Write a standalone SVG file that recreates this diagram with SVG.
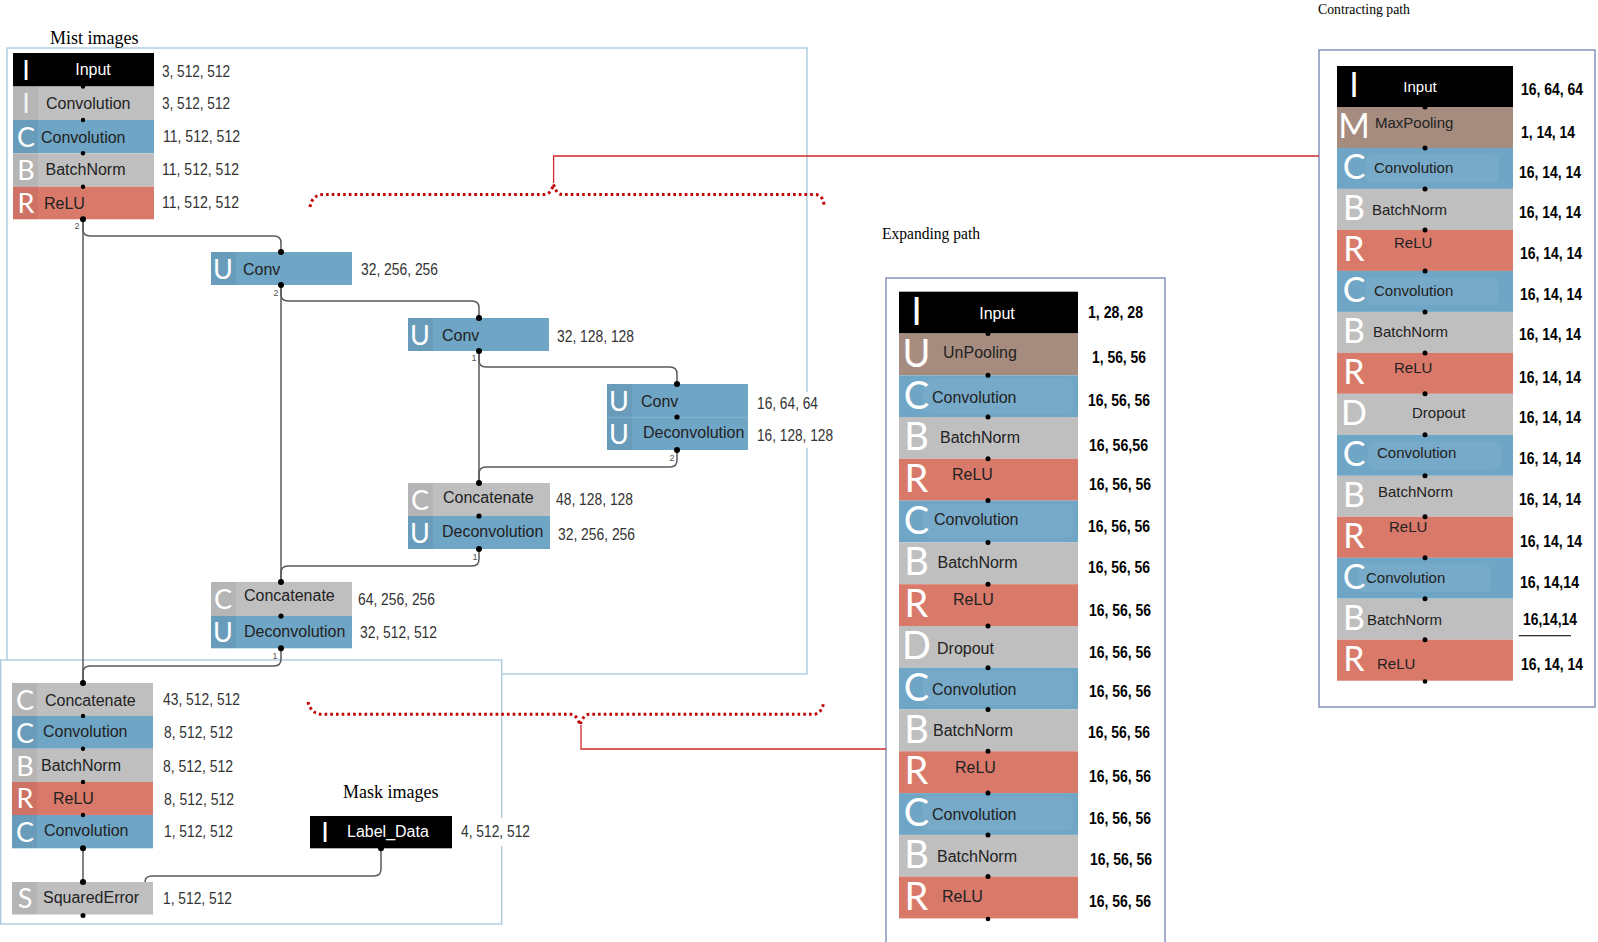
<svg xmlns="http://www.w3.org/2000/svg" width="1598" height="942" viewBox="0 0 1598 942">
<style>
.bk{fill:#000}.gy{fill:#bfbfbf}.bl{fill:#6fa5c5}.rd{fill:#d9796a}.br{fill:#a68c7e}
.lc{fill:#000;opacity:.05}
.gh{fill:#fff;opacity:.06}
.ic{font-family:Lato,"Liberation Sans",Arial,sans-serif;font-weight:400;font-size:27px;fill:#fff;text-anchor:middle}
.icb{font-family:Lato,"Liberation Sans",Arial,sans-serif;font-weight:400;font-size:38px;fill:#fff;text-anchor:middle}
.icc{font-family:Lato,"Liberation Sans",Arial,sans-serif;font-weight:400;font-size:34px;fill:#fff;text-anchor:middle}
.lb{font-family:"Liberation Sans",Arial,sans-serif;font-size:16px;fill:#222}
.lbs{font-family:"Liberation Sans",Arial,sans-serif;font-size:15px;fill:#222}
.w{fill:#fff}
.mid{text-anchor:middle}
.dm{font-family:"Liberation Sans",Arial,sans-serif;font-size:16px;fill:#333}
.db{font-family:"Liberation Sans",Arial,sans-serif;font-size:16px;font-weight:bold;fill:#000}
.cap{font-family:"Liberation Serif","Times New Roman",serif;fill:#000}
.num{font-family:"Liberation Sans",Arial,sans-serif;font-size:9px;fill:#555;text-anchor:middle}
.conn{fill:none;stroke:#5a5a5a;stroke-width:1.5}
.dot{fill:#000}
.brace{fill:none;stroke:#c00000;stroke-width:3;stroke-dasharray:2.6 3.1}
.red{fill:none;stroke:#d02a2a;stroke-width:1.3}
.box1{fill:none;stroke:#a8c8dd;stroke-width:1.3}
.box2{fill:#fff;stroke:#a8c8dd;stroke-width:1.3}
.box3{fill:none;stroke:#7482b2;stroke-width:1.3}
</style>

<!-- panel frames -->
<g id="frames">
<rect class="box1" x="7" y="48" width="800" height="626"/>
<rect class="box2" x="0.7" y="660" width="501" height="264"/>
<rect class="box3" x="886" y="278" width="279" height="680"/>
<rect class="box3" x="1319" y="50" width="276" height="657"/>
</g>

<g id="captions">
<text class="cap" x="50" y="44" font-size="18">Mist images</text>
<text class="cap" x="343" y="798" font-size="18">Mask images</text>
<text class="cap" x="882" y="239" font-size="16" textLength="98" lengthAdjust="spacingAndGlyphs">Expanding path</text>
<text class="cap" x="1318" y="14" font-size="15" textLength="92" lengthAdjust="spacingAndGlyphs">Contracting path</text>
</g>

<!-- red annotation -->
<g id="annotations">
<path class="brace" d="M310,207 Q312,195 323,194.5 H545 Q551,194 553.5,184 Q556,194 562,194.5 H815 Q823,195 824,205"/>
<path class="red" d="M553.6,183 V156 H1319"/>
<path class="brace" d="M308,702 Q311,714 322,714.3 H571 Q577,715 580,725 Q583,715 589,714.3 H814 Q822,713 823.5,703"/>
<path class="red" d="M581,725 V749 H886"/>
</g>

<!-- connectors -->
<g id="connectors">
<path class="conn" d="M83,219 V683"/>
<path class="conn" d="M83,219 V229 Q83,236 90,236 H274 Q281,236 281,243 V252"/>
<path class="conn" d="M281,285 V582"/>
<path class="conn" d="M281,285 V294 Q281,301 288,301 H472 Q479,301 479,308 V318"/>
<path class="conn" d="M479,351 V483"/>
<path class="conn" d="M479,351 V360 Q479,367 486,367 H670 Q677,367 677,374 V384"/>
<path class="conn" d="M677,450 V460 Q677,467 670,467 H486 Q479,467 479,474 V483"/>
<path class="conn" d="M479,549 V559 Q479,566 472,566 H288 Q281,566 281,573 V582"/>
<path class="conn" d="M281,648 V659 Q281,666 274,666 H90 Q83,666 83,673 V683"/>
<path class="conn" d="M83,848 V882"/>
<path class="conn" d="M381,848 V869 Q381,876 374,876 H152 Q145,876 145,882"/>
<text class="num" x="77" y="229">2</text>
<text class="num" x="276" y="296">2</text>
<text class="num" x="474" y="361">1</text>
<text class="num" x="672" y="461">2</text>
<text class="num" x="475" y="560">1</text>
<text class="num" x="275" y="659">1</text>
</g>

<!-- Mist encoder stack -->
<g id="node-input-stack">
<rect class="bk" x="13" y="53" width="141" height="33.5"/>
<rect class="gy" x="13" y="86.5" width="141" height="33.5"/>
<rect class="bl" x="13" y="120" width="141" height="33.3"/>
<rect class="gy" x="13" y="153.3" width="141" height="33.4"/>
<rect class="rd" x="13" y="186.7" width="141" height="32.6"/>
<rect class="lc" x="13" y="86.5" width="25" height="132.8"/>
<text class="ic" x="26" y="80">I</text>
<text class="ic" x="26" y="113" style="fill:#f2f2f2">I</text>
<text class="ic" x="26" y="146.5">C</text>
<text class="ic" x="26" y="179.5">B</text>
<text class="ic" x="26" y="212.5">R</text>
<text class="lb w mid" x="93" y="75">Input</text>
<text class="lb" x="46" y="109">Convolution</text>
<text class="lb" x="41" y="142.5">Convolution</text>
<text class="lb" x="45.5" y="175">BatchNorm</text>
<text class="lb" x="44" y="209">ReLU</text>
<text class="dm" x="162" y="77" textLength="68" lengthAdjust="spacingAndGlyphs">3, 512, 512</text>
<text class="dm" x="162" y="109" textLength="68" lengthAdjust="spacingAndGlyphs">3, 512, 512</text>
<text class="dm" x="163" y="142" textLength="77" lengthAdjust="spacingAndGlyphs">11, 512, 512</text>
<text class="dm" x="162" y="175" textLength="77" lengthAdjust="spacingAndGlyphs">11, 512, 512</text>
<text class="dm" x="162" y="208" textLength="77" lengthAdjust="spacingAndGlyphs">11, 512, 512</text>
<circle class="dot" cx="83" cy="86.5" r="2.2"/>
<circle class="dot" cx="83" cy="120" r="2.2"/>
<circle class="dot" cx="83" cy="153.3" r="2.2"/>
<circle class="dot" cx="83" cy="186.7" r="2.2"/>
<circle class="dot" cx="83" cy="219.3" r="3"/>
</g>

<g id="node-uconv1">
<rect class="bl" x="211" y="252" width="141" height="33"/>
<rect class="lc" x="211" y="252" width="25" height="33"/>
<text class="ic" x="223" y="278.5">U</text>
<text class="lb" x="243" y="275">Conv</text>
<text class="dm" x="361" y="275" textLength="77" lengthAdjust="spacingAndGlyphs">32, 256, 256</text>
<circle class="dot" cx="281" cy="252" r="3"/>
<circle class="dot" cx="281" cy="285" r="3"/>
</g>

<g id="node-uconv2">
<rect class="bl" x="408" y="318" width="141" height="33"/>
<rect class="lc" x="408" y="318" width="25" height="33"/>
<text class="ic" x="420" y="344.5">U</text>
<text class="lb" x="442" y="341">Conv</text>
<text class="dm" x="557" y="342" textLength="77" lengthAdjust="spacingAndGlyphs">32, 128, 128</text>
<circle class="dot" cx="479" cy="318" r="3"/>
<circle class="dot" cx="479" cy="351" r="3"/>
</g>

<g id="node-uconv3-deconv">
<rect x="755" y="392" width="80" height="56" fill="#fff"/>
<rect class="bl" x="607" y="384" width="141" height="33"/>
<rect class="bl" x="607" y="417" width="141" height="33"/>
<rect x="607" y="417" width="141" height="0.8" fill="#8bb8d2"/>
<rect class="lc" x="607" y="384" width="25" height="66"/>
<text class="ic" x="619" y="410.5">U</text>
<text class="ic" x="619" y="443.5">U</text>
<text class="lb" x="641" y="407">Conv</text>
<text class="lb" x="643" y="438">Deconvolution</text>
<text class="dm" x="757" y="409" textLength="61" lengthAdjust="spacingAndGlyphs">16, 64, 64</text>
<text class="dm" x="757" y="441" textLength="76" lengthAdjust="spacingAndGlyphs">16, 128, 128</text>
<circle class="dot" cx="677" cy="384" r="3"/>
<circle class="dot" cx="677" cy="417" r="2.6"/>
<circle class="dot" cx="677" cy="450" r="3"/>
</g>

<g id="node-concat1-deconv">
<rect class="gy" x="408" y="483" width="142" height="33"/>
<rect class="bl" x="408" y="516" width="142" height="33"/>
<rect class="lc" x="408" y="483" width="25" height="66"/>
<text class="ic" x="420" y="509.5">C</text>
<text class="ic" x="420" y="542.5">U</text>
<text class="lb" x="443" y="503">Concatenate</text>
<text class="lb" x="442" y="537">Deconvolution</text>
<text class="dm" x="556" y="505" textLength="77" lengthAdjust="spacingAndGlyphs">48, 128, 128</text>
<text class="dm" x="558" y="540" textLength="77" lengthAdjust="spacingAndGlyphs">32, 256, 256</text>
<circle class="dot" cx="479" cy="483" r="3"/>
<circle class="dot" cx="479" cy="516" r="2.6"/>
<circle class="dot" cx="479" cy="549" r="3"/>
</g>

<g id="node-concat2-deconv">
<rect class="gy" x="211" y="582" width="141" height="34"/>
<rect class="bl" x="211" y="616" width="141" height="32.3"/>
<rect class="lc" x="211" y="582" width="25" height="66.3"/>
<text class="ic" x="223" y="609">C</text>
<text class="ic" x="223" y="642">U</text>
<text class="lb" x="244" y="601">Concatenate</text>
<text class="lb" x="244" y="636.5">Deconvolution</text>
<text class="dm" x="358" y="605" textLength="77" lengthAdjust="spacingAndGlyphs">64, 256, 256</text>
<text class="dm" x="360" y="638" textLength="77" lengthAdjust="spacingAndGlyphs">32, 512, 512</text>
<circle class="dot" cx="281" cy="582" r="3"/>
<circle class="dot" cx="281" cy="616" r="2.6"/>
<circle class="dot" cx="281" cy="648.3" r="3"/>
</g>

<g id="node-output-stack">
<rect class="gy" x="12" y="683" width="141" height="33"/>
<rect class="bl" x="12" y="716" width="141" height="32.7"/>
<rect class="gy" x="12" y="748.7" width="141" height="33.3"/>
<rect class="rd" x="12" y="782" width="141" height="33"/>
<rect class="bl" x="12" y="815" width="141" height="33.3"/>
<rect class="lc" x="12" y="683" width="25" height="165.3"/>
<text class="ic" x="25" y="709.5">C</text>
<text class="ic" x="25" y="742.5">C</text>
<text class="ic" x="25" y="775.5">B</text>
<text class="ic" x="25" y="808">R</text>
<text class="ic" x="25" y="841.5">C</text>
<text class="lb" x="45" y="705.5">Concatenate</text>
<text class="lb" x="43" y="737">Convolution</text>
<text class="lb" x="41" y="770.5">BatchNorm</text>
<text class="lb" x="53" y="804">ReLU</text>
<text class="lb" x="44" y="836">Convolution</text>
<text class="dm" x="163" y="705" textLength="77" lengthAdjust="spacingAndGlyphs">43, 512, 512</text>
<text class="dm" x="164" y="738" textLength="69" lengthAdjust="spacingAndGlyphs">8, 512, 512</text>
<text class="dm" x="163" y="772" textLength="70" lengthAdjust="spacingAndGlyphs">8, 512, 512</text>
<text class="dm" x="164" y="805" textLength="70" lengthAdjust="spacingAndGlyphs">8, 512, 512</text>
<text class="dm" x="164" y="837" textLength="69" lengthAdjust="spacingAndGlyphs">1, 512, 512</text>
<circle class="dot" cx="83" cy="683" r="3"/>
<circle class="dot" cx="83" cy="716" r="2.2"/>
<circle class="dot" cx="83" cy="748.7" r="2.2"/>
<circle class="dot" cx="83" cy="782" r="2.2"/>
<circle class="dot" cx="83" cy="815" r="2.2"/>
<circle class="dot" cx="83" cy="848.3" r="3"/>
</g>

<g id="node-squarederror">
<rect class="gy" x="12" y="882" width="141" height="32.5"/>
<rect class="lc" x="12" y="882" width="25" height="32.5"/>
<text class="ic" x="25" y="908">S</text>
<text class="lb" x="43" y="903">SquaredError</text>
<text class="dm" x="163" y="904" textLength="69" lengthAdjust="spacingAndGlyphs">1, 512, 512</text>
<circle class="dot" cx="83" cy="882" r="3"/>
<circle class="dot" cx="83" cy="915.5" r="2.5"/>
</g>

<g id="node-label-data">
<rect x="458" y="818" width="76" height="28" fill="#fff"/>
<rect class="bk" x="310" y="816" width="142" height="32.3"/>
<text class="ic" x="325" y="842">I</text>
<text class="lb w" x="347" y="836.5">Label_Data</text>
<text class="dm" x="461" y="837" textLength="69" lengthAdjust="spacingAndGlyphs">4, 512, 512</text>
<circle class="dot" cx="381" cy="848.3" r="3"/>
</g>

<!-- Expanding path -->
<g id="node-expanding-path">
<rect class="bk" x="899" y="291.7" width="179" height="41.8"/>
<rect class="br" x="899" y="333.5" width="179" height="41.8"/>
<rect class="bl" x="899" y="375.3" width="179" height="41.7"/>
<rect class="gy" x="899" y="417" width="179" height="41.8"/>
<rect class="rd" x="899" y="458.8" width="179" height="41.8"/>
<rect class="bl" x="899" y="500.6" width="179" height="41.8"/>
<rect class="gy" x="899" y="542.4" width="179" height="41.8"/>
<rect class="rd" x="899" y="584.2" width="179" height="41.8"/>
<rect class="gy" x="899" y="626" width="179" height="41.7"/>
<rect class="bl" x="899" y="667.7" width="179" height="41.8"/>
<rect class="gy" x="899" y="709.5" width="179" height="41.8"/>
<rect class="rd" x="899" y="751.3" width="179" height="41.8"/>
<rect class="bl" x="899" y="793.1" width="179" height="41.8"/>
<rect class="gy" x="899" y="834.9" width="179" height="41.7"/>
<rect class="rd" x="899" y="876.6" width="179" height="41.8"/>
<rect class="gh" x="923" y="379" width="150" height="34" rx="6"/>
<rect class="gh" x="923" y="504" width="150" height="34" rx="6"/>
<rect class="gh" x="923" y="671" width="150" height="34" rx="6"/>
<rect class="gh" x="923" y="797" width="150" height="34" rx="6"/>
<text class="icb" x="916.5" y="325">I</text>
<text class="icb" x="916.5" y="366.5">U</text>
<text class="icb" x="916.5" y="408.5">C</text>
<text class="icb" x="916.5" y="450">B</text>
<text class="icb" x="916.5" y="491.8">R</text>
<text class="icb" x="916.5" y="533.8">C</text>
<text class="icb" x="916.5" y="575.4">B</text>
<text class="icb" x="916.5" y="617.2">R</text>
<text class="icb" x="916.5" y="659">D</text>
<text class="icb" x="916.5" y="701">C</text>
<text class="icb" x="916.5" y="742.5">B</text>
<text class="icb" x="916.5" y="784.3">R</text>
<text class="icb" x="916.5" y="826.3">C</text>
<text class="icb" x="916.5" y="868">B</text>
<text class="icb" x="916.5" y="909.6">R</text>
<text class="lb w mid" x="997" y="319">Input</text>
<text class="lb" x="943" y="358">UnPooling</text>
<text class="lb" x="932" y="403">Convolution</text>
<text class="lb" x="940" y="443">BatchNorm</text>
<text class="lb" x="952" y="480">ReLU</text>
<text class="lb" x="934" y="525">Convolution</text>
<text class="lb" x="937.5" y="568">BatchNorm</text>
<text class="lb" x="953" y="605">ReLU</text>
<text class="lb" x="937" y="654">Dropout</text>
<text class="lb" x="932" y="695">Convolution</text>
<text class="lb" x="933" y="736">BatchNorm</text>
<text class="lb" x="955" y="773">ReLU</text>
<text class="lb" x="932" y="820">Convolution</text>
<text class="lb" x="937" y="862">BatchNorm</text>
<text class="lb" x="942" y="902">ReLU</text>
<circle class="dot" cx="988" cy="333.5" r="2.5"/>
<circle class="dot" cx="988" cy="375.3" r="2.5"/>
<circle class="dot" cx="988" cy="417" r="2.5"/>
<circle class="dot" cx="988" cy="458.8" r="2.5"/>
<circle class="dot" cx="988" cy="500.6" r="2.5"/>
<circle class="dot" cx="988" cy="542.4" r="2.5"/>
<circle class="dot" cx="988" cy="584.2" r="2.5"/>
<circle class="dot" cx="988" cy="626" r="2.5"/>
<circle class="dot" cx="988" cy="667.7" r="2.5"/>
<circle class="dot" cx="988" cy="709.5" r="2.5"/>
<circle class="dot" cx="988" cy="751.3" r="2.5"/>
<circle class="dot" cx="988" cy="793.1" r="2.5"/>
<circle class="dot" cx="988" cy="834.9" r="2.5"/>
<circle class="dot" cx="988" cy="876.6" r="2.5"/>
<circle class="dot" cx="988" cy="919" r="2.3"/>
<text class="db" x="1088" y="318" textLength="55" lengthAdjust="spacingAndGlyphs">1, 28, 28</text>
<text class="db" x="1092" y="363" textLength="54" lengthAdjust="spacingAndGlyphs">1, 56, 56</text>
<text class="db" x="1088" y="406" textLength="62" lengthAdjust="spacingAndGlyphs">16, 56, 56</text>
<text class="db" x="1089" y="451" textLength="59" lengthAdjust="spacingAndGlyphs">16, 56,56</text>
<text class="db" x="1089" y="490" textLength="62" lengthAdjust="spacingAndGlyphs">16, 56, 56</text>
<text class="db" x="1088" y="532" textLength="62" lengthAdjust="spacingAndGlyphs">16, 56, 56</text>
<text class="db" x="1088" y="573" textLength="62" lengthAdjust="spacingAndGlyphs">16, 56, 56</text>
<text class="db" x="1089" y="616" textLength="62" lengthAdjust="spacingAndGlyphs">16, 56, 56</text>
<text class="db" x="1089" y="658" textLength="62" lengthAdjust="spacingAndGlyphs">16, 56, 56</text>
<text class="db" x="1089" y="697" textLength="62" lengthAdjust="spacingAndGlyphs">16, 56, 56</text>
<text class="db" x="1088" y="738" textLength="62" lengthAdjust="spacingAndGlyphs">16, 56, 56</text>
<text class="db" x="1089" y="782" textLength="62" lengthAdjust="spacingAndGlyphs">16, 56, 56</text>
<text class="db" x="1089" y="824" textLength="62" lengthAdjust="spacingAndGlyphs">16, 56, 56</text>
<text class="db" x="1090" y="865" textLength="62" lengthAdjust="spacingAndGlyphs">16, 56, 56</text>
<text class="db" x="1089" y="907" textLength="62" lengthAdjust="spacingAndGlyphs">16, 56, 56</text>
</g>

<!-- Contracting path -->
<g id="node-contracting-path">
<rect class="bk" x="1337" y="66" width="176" height="41"/>
<rect class="br" x="1337" y="107" width="176" height="41"/>
<rect class="bl" x="1337" y="148" width="176" height="40.9"/>
<rect class="gy" x="1337" y="188.9" width="176" height="41"/>
<rect class="rd" x="1337" y="229.9" width="176" height="41"/>
<rect class="bl" x="1337" y="270.9" width="176" height="41"/>
<rect class="gy" x="1337" y="311.9" width="176" height="41"/>
<rect class="rd" x="1337" y="352.9" width="176" height="40.9"/>
<rect class="gy" x="1337" y="393.8" width="176" height="41"/>
<rect class="bl" x="1337" y="434.8" width="176" height="41"/>
<rect class="gy" x="1337" y="475.8" width="176" height="41"/>
<rect class="rd" x="1337" y="516.8" width="176" height="41"/>
<rect class="bl" x="1337" y="557.8" width="176" height="40.9"/>
<rect class="gy" x="1337" y="598.7" width="176" height="41"/>
<rect class="rd" x="1337" y="639.7" width="176" height="41"/>
<rect class="gh" x="1366" y="155" width="133" height="28" rx="6"/>
<rect class="gh" x="1366" y="277" width="133" height="28" rx="6"/>
<rect class="gh" x="1368" y="441" width="133" height="28" rx="6"/>
<rect class="gh" x="1358" y="564" width="133" height="28" rx="6"/>
<text class="icc" x="1354" y="97">I</text>
<text class="icc" x="1354" y="138">M</text>
<text class="icc" x="1354" y="179">C</text>
<text class="icc" x="1354" y="220">B</text>
<text class="icc" x="1354" y="261">R</text>
<text class="icc" x="1354" y="302">C</text>
<text class="icc" x="1354" y="343">B</text>
<text class="icc" x="1354" y="384">R</text>
<text class="icc" x="1354" y="425">D</text>
<text class="icc" x="1354" y="466">C</text>
<text class="icc" x="1354" y="507">B</text>
<text class="icc" x="1354" y="548">R</text>
<text class="icc" x="1354" y="589">C</text>
<text class="icc" x="1354" y="630">B</text>
<text class="icc" x="1354" y="671">R</text>
<text class="lbs w mid" x="1420" y="92">Input</text>
<text class="lbs" x="1375" y="128">MaxPooling</text>
<text class="lbs" x="1374" y="173">Convolution</text>
<text class="lbs" x="1372" y="215">BatchNorm</text>
<text class="lbs" x="1394" y="248">ReLU</text>
<text class="lbs" x="1374" y="296">Convolution</text>
<text class="lbs" x="1373" y="337">BatchNorm</text>
<text class="lbs" x="1394" y="373">ReLU</text>
<text class="lbs" x="1412" y="418">Dropout</text>
<text class="lbs" x="1377" y="458">Convolution</text>
<text class="lbs" x="1378" y="497">BatchNorm</text>
<text class="lbs" x="1389" y="532">ReLU</text>
<text class="lbs" x="1366" y="583">Convolution</text>
<text class="lbs" x="1367" y="625">BatchNorm</text>
<text class="lbs" x="1377" y="669">ReLU</text>
<circle class="dot" cx="1425" cy="107" r="2.5"/>
<circle class="dot" cx="1425" cy="148" r="2.5"/>
<circle class="dot" cx="1425" cy="188.9" r="2.5"/>
<circle class="dot" cx="1425" cy="229.9" r="2.5"/>
<circle class="dot" cx="1425" cy="270.9" r="2.5"/>
<circle class="dot" cx="1425" cy="311.9" r="2.5"/>
<circle class="dot" cx="1425" cy="352.9" r="2.5"/>
<circle class="dot" cx="1425" cy="393.8" r="2.5"/>
<circle class="dot" cx="1425" cy="434.8" r="2.5"/>
<circle class="dot" cx="1425" cy="475.8" r="2.5"/>
<circle class="dot" cx="1425" cy="516.8" r="2.5"/>
<circle class="dot" cx="1425" cy="557.8" r="2.5"/>
<circle class="dot" cx="1425" cy="598.7" r="2.5"/>
<circle class="dot" cx="1425" cy="639.7" r="2.5"/>
<circle class="dot" cx="1425" cy="681.5" r="2.3"/>
<text class="db" x="1521" y="95" textLength="62" lengthAdjust="spacingAndGlyphs">16, 64, 64</text>
<text class="db" x="1521" y="138" textLength="54" lengthAdjust="spacingAndGlyphs">1, 14, 14</text>
<text class="db" x="1519" y="178" textLength="62" lengthAdjust="spacingAndGlyphs">16, 14, 14</text>
<text class="db" x="1519" y="218" textLength="62" lengthAdjust="spacingAndGlyphs">16, 14, 14</text>
<text class="db" x="1520" y="259" textLength="62" lengthAdjust="spacingAndGlyphs">16, 14, 14</text>
<text class="db" x="1520" y="300" textLength="62" lengthAdjust="spacingAndGlyphs">16, 14, 14</text>
<text class="db" x="1519" y="340" textLength="62" lengthAdjust="spacingAndGlyphs">16, 14, 14</text>
<text class="db" x="1519" y="383" textLength="62" lengthAdjust="spacingAndGlyphs">16, 14, 14</text>
<text class="db" x="1519" y="423" textLength="62" lengthAdjust="spacingAndGlyphs">16, 14, 14</text>
<text class="db" x="1519" y="464" textLength="62" lengthAdjust="spacingAndGlyphs">16, 14, 14</text>
<text class="db" x="1519" y="505" textLength="62" lengthAdjust="spacingAndGlyphs">16, 14, 14</text>
<text class="db" x="1520" y="547" textLength="62" lengthAdjust="spacingAndGlyphs">16, 14, 14</text>
<text class="db" x="1520" y="588" textLength="59" lengthAdjust="spacingAndGlyphs">16, 14,14</text>
<text class="db" x="1523" y="625" textLength="54" lengthAdjust="spacingAndGlyphs">16,14,14</text>
<rect x="1518.7" y="635" width="52.3" height="1.3" fill="#333"/>
<text class="db" x="1521" y="670" textLength="62" lengthAdjust="spacingAndGlyphs">16, 14, 14</text>
</g>
</svg>
